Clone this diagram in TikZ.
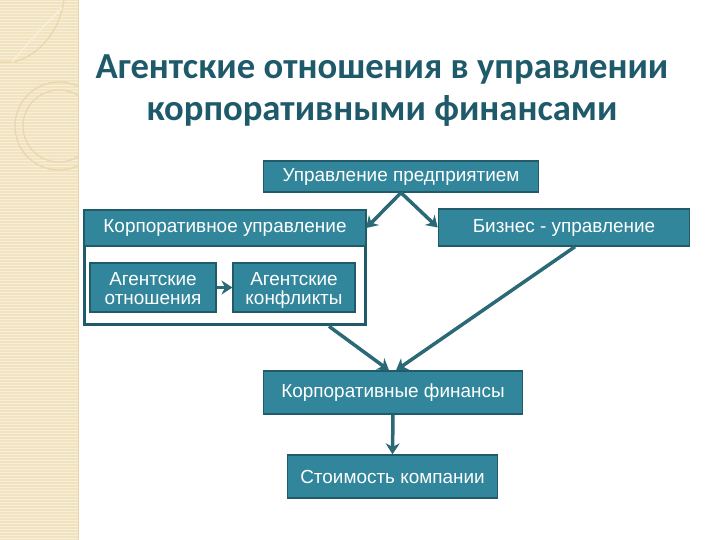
\documentclass[tikz,border=0pt]{standalone}
\usepackage{fontspec}
\setmainfont{Liberation Sans}
\newfontfamily\titlefont{Carlito}
\usetikzlibrary{arrows.meta}
\definecolor{boxfill}{HTML}{31869B}
\definecolor{boxline}{HTML}{215A68}
\definecolor{arrowc}{HTML}{2B6976}
\definecolor{titlec}{HTML}{1F5A6B}
\definecolor{stripe}{HTML}{F1E2C0}
\definecolor{stripel}{HTML}{F8EFD8}
\definecolor{deco}{HTML}{E8D6AC}
\tikzset{
  box/.style={draw=boxline, line width=1.5bp, fill=boxfill, text=white, inner sep=0pt,
    font=\fontsize{19}{20}\selectfont, align=center},
  container/.style={draw=boxline, line width=3bp, fill=white, inner sep=0pt},
  arr/.style={draw=arrowc, line width=3.5bp, -{Stealth[length=11bp,width=14bp]}},
  ttl/.style={text=titlec, font=\titlefont\bfseries\fontsize{36.8}{40}\selectfont, anchor=base}
}
\begin{document}
\begin{tikzpicture}[x=1bp,y=-1bp]
\useasboundingbox (0,0) rectangle (720,540);
% left stripe
\fill[stripe] (0,0) rectangle (78,540);
\foreach \yy in {1.5,4.5,...,540} \draw[stripel, line width=1bp] (0,\yy) -- (78,\yy);
\begin{scope}
\clip (0,0) rectangle (78,540);
\draw[deco, line width=1.2bp] (59,126) circle (44);
\draw[deco, line width=1.2bp] (59,126) circle (36);
\draw[deco, line width=1.2bp] (0,62) -- (14,62) .. controls (40,55) and (60,30) .. (64,0);
\draw[stripel, line width=1.5bp] (12,62) .. controls (30,40) and (45,25) .. (62,8);
\end{scope}
\draw[deco, line width=1bp] (78.5,0) -- (78.5,540);
% title
\node[ttl] (t1) at (382,79) {Агентские отношения в управлении};
\node[ttl] (t2) at (382,121) {корпоративными финансами};
% boxes
\node[box, minimum width=276, minimum height=31] (up) at (401,176.5) {Управление предприятием};
\node[container, minimum width=282, minimum height=115] (kuc) at (225,267.5) {};
\node[box, minimum width=282, minimum height=36] (kuh) at (225,228) {Корпоративное управление};
\node[box, minimum width=252, minimum height=37] (biz) at (564,227.5) {Бизнес - управление};
\node[box, minimum width=126, minimum height=49] (ao) at (153,287.5) {\rule{0pt}{21bp}Агентские\\\strut отношения};
\node[box, minimum width=122, minimum height=49] (ak) at (294,287.5) {\rule{0pt}{21bp}Агентские\\\strut конфликты};
\node[box, minimum width=260, minimum height=43] (kf) at (393,392.5) {Корпоративные финансы};
\node[box, minimum width=211, minimum height=43] (sk) at (392.5,476.5) {Стоимость компании};
% arrows
\draw[arr] (up.south) -- (kuh.east);
\draw[arr] (up.south) -- (biz.west);
\draw[arr] (ao.east) -- (ak.west);
\draw[arr] ([xshift=-38bp]kuc.south east) -- ([xshift=-4bp]kf.north);
\draw[arr] ([xshift=11bp]biz.south) -- ([xshift=3bp]kf.north);
\draw[arr] (kf.south) -- (sk.north);
\end{tikzpicture}
\end{document}
